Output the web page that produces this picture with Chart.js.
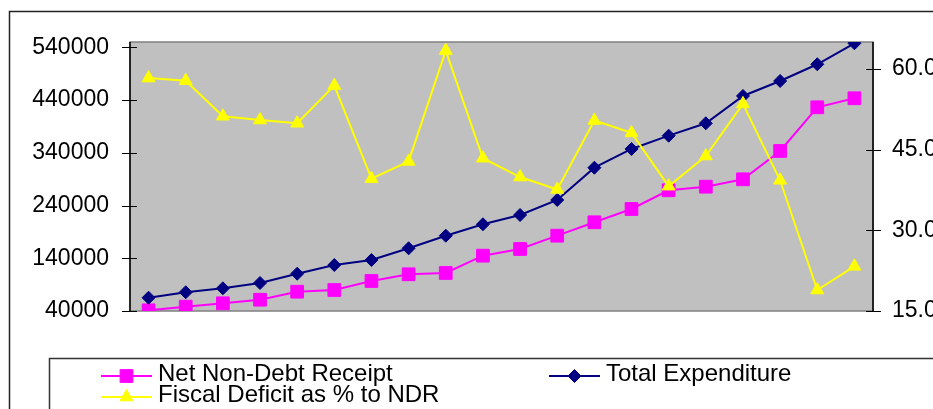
<!DOCTYPE html>
<html>
<head>
<meta charset="utf-8">
<script src="https://cdn.jsdelivr.net/npm/chart.js@4/dist/chart.umd.min.js"></script>
<style>
html,body{margin:0;padding:0;background:#fff;overflow:hidden;}
#wrap{position:relative;width:933px;height:409px;}
</style>
</head>
<body>
<div id="wrap"><canvas id="c" width="933" height="409"></canvas></div>
<script>
// ---- data ----
const categories = ['1','2','3','4','5','6','7','8','9','10','11','12','13','14','15','16','17','18','19','20'];
const netNonDebtReceipt = [41300, 48200, 54600, 61400, 76600, 79800, 96900, 109600, 112100, 144900,
  157600, 182800, 208200, 233400, 268900, 275700, 289700, 343400, 426200, 443300];
const totalExpenditure = [65200, 75500, 83000, 93100, 110700, 127200, 136700, 158900, 182800, 204400,
  222000, 250500, 311700, 347200, 372400, 395900, 447700, 476100, 507800, 547600];
const fiscalDeficitPct = [58.3, 57.8, 51.2, 50.5, 49.9, 56.9, 39.6, 42.8, 63.4, 43.4,
  39.9, 37.6, 50.4, 48.1, 38.2, 43.8, 53.5, 39.3, 18.9, 23.3];
const leftTicks = [40000, 140000, 240000, 340000, 440000, 540000];
const rightTicks = [15, 30, 45, 60];
const seriesNames = ['Net Non-Debt Receipt', 'Total Expenditure', 'Fiscal Deficit as % to NDR'];

const FONT = '"Liberation Sans", Arial, sans-serif';

const decor = {
  id: 'decor',
  beforeDraw(chart) {
    const ctx = chart.ctx, a = chart.chartArea;
    ctx.save();
    // outer border
    ctx.strokeStyle = '#222';
    ctx.lineWidth = 1.5;
    ctx.strokeRect(9.5, 11.5, 1200, 1200);
    // plot area
    ctx.fillStyle = '#C0C0C0';
    ctx.fillRect(a.left, a.top, a.right - a.left, a.bottom - a.top);
    ctx.strokeStyle = '#808080';
    ctx.lineWidth = 1.5;
    ctx.strokeRect(a.left, a.top, a.right - a.left, a.bottom - a.top);
    ctx.restore();
  },
  beforeDatasetsDraw(chart) {
    const ctx = chart.ctx, a = chart.chartArea;
    const yL = chart.scales.y, yR = chart.scales.y1;
    ctx.save();
    ctx.strokeStyle = '#000';
    ctx.lineWidth = 1.5;
    ctx.beginPath();
    ctx.moveTo(a.left, a.top); ctx.lineTo(a.left, a.bottom);
    ctx.moveTo(a.right, a.top); ctx.lineTo(a.right, a.bottom);
    ctx.stroke();
    ctx.lineWidth = 1;
    ctx.beginPath();
    yL.ticks.forEach(t => {
      const y = Math.round(yL.getPixelForValue(t.value)) + 0.5;
      ctx.moveTo(a.left - 8, y); ctx.lineTo(a.left + 7, y);
    });
    yR.ticks.forEach(t => {
      const y = Math.round(yR.getPixelForValue(t.value)) + 0.5;
      ctx.moveTo(a.right - 7, y); ctx.lineTo(a.right + 8, y);
    });
    ctx.stroke();
    ctx.restore();
  },
  afterDraw(chart) {
    const ctx = chart.ctx;
    ctx.save();
    // legend box
    ctx.strokeStyle = '#333';
    ctx.lineWidth = 1.5;
    ctx.strokeRect(49.5, 358.5, 1200, 200);
    const ds = chart.data.datasets;
    const items = [
      {d: ds[0], x: 101, y: 376},
      {d: ds[1], x: 549, y: 376},
      {d: ds[2], x: 101, y: 397}
    ];
    ctx.font = '24px ' + FONT;
    ctx.textBaseline = 'middle';
    items.forEach(it => {
      ctx.strokeStyle = it.d.borderColor;
      ctx.lineWidth = 2;
      ctx.beginPath();
      ctx.moveTo(it.x, it.y); ctx.lineTo(it.x + 51, it.y);
      ctx.stroke();
      ctx.fillStyle = it.d.pointBackgroundColor;
      ctx.strokeStyle = it.d.pointBorderColor;
      ctx.lineWidth = 1;
      Chart.helpers.drawPoint(ctx, {pointStyle: it.d.pointStyle, radius: it.d.pointRadius, rotation: 0, borderWidth: 1}, it.x + 25.5, it.y);
      ctx.fillStyle = '#000';
      ctx.fillText(it.d.label, it.x + 57, it.y - 2);
    });
    ctx.restore();
  }
};

new Chart(document.getElementById('c'), {
  type: 'line',
  data: {
    labels: categories,
    datasets: [
      {
        label: seriesNames[0], data: netNonDebtReceipt, yAxisID: 'y', order: 2,
        borderColor: '#FF00FF', backgroundColor: '#FF00FF', borderWidth: 2,
        pointStyle: 'rect', pointRadius: 9, pointBackgroundColor: '#FF00FF', pointBorderColor: '#FF00FF', pointBorderWidth: 1,
        tension: 0
      },
      {
        label: seriesNames[1], data: totalExpenditure, yAxisID: 'y', order: 1,
        borderColor: '#000080', backgroundColor: '#000080', borderWidth: 2,
        pointStyle: 'rectRot', pointRadius: 6.5, pointBackgroundColor: '#000080', pointBorderColor: '#000080', pointBorderWidth: 1,
        tension: 0
      },
      {
        label: seriesNames[2], data: fiscalDeficitPct, yAxisID: 'y1', order: 0,
        borderColor: '#FFFF00', backgroundColor: '#FFFF00', borderWidth: 2,
        pointStyle: 'triangle', pointRadius: 7.5, pointBackgroundColor: '#FFFF00', pointBorderColor: '#FFFF00', pointBorderWidth: 1,
        tension: 0
      }
    ]
  },
  options: {
    responsive: false,
    animation: false,
    devicePixelRatio: 1,
    layout: {padding: {left: 0, right: 0, top: 42, bottom: 98}},
    plugins: {legend: {display: false}, tooltip: {enabled: false}},
    elements: {point: {hoverRadius: 0}},
    scales: {
      x: {
        type: 'category', offset: true, display: false
      },
      y: {
        position: 'left', min: 40000, max: 550000,
        afterBuildTicks(s) { s.ticks = leftTicks.map(v => ({value: v})); },
        afterFit(s) { s.width = 130; },
        grid: {display: false, drawTicks: false},
        border: {display: false},
        ticks: {
          padding: 21, color: '#000', font: {family: FONT, size: 23},
          callback: v => String(v)
        }
      },
      y1: {
        position: 'right', min: 15, max: 65,
        afterBuildTicks(s) { s.ticks = rightTicks.map(v => ({value: v})); },
        afterFit(s) { s.width = 60; },
        grid: {display: false, drawTicks: false},
        border: {display: false},
        ticks: {
          padding: 19, color: '#000', font: {family: FONT, size: 23},
          callback: v => Number(v).toFixed(2)
        }
      }
    }
  },
  plugins: [decor]
});
</script>
</body>
</html>
